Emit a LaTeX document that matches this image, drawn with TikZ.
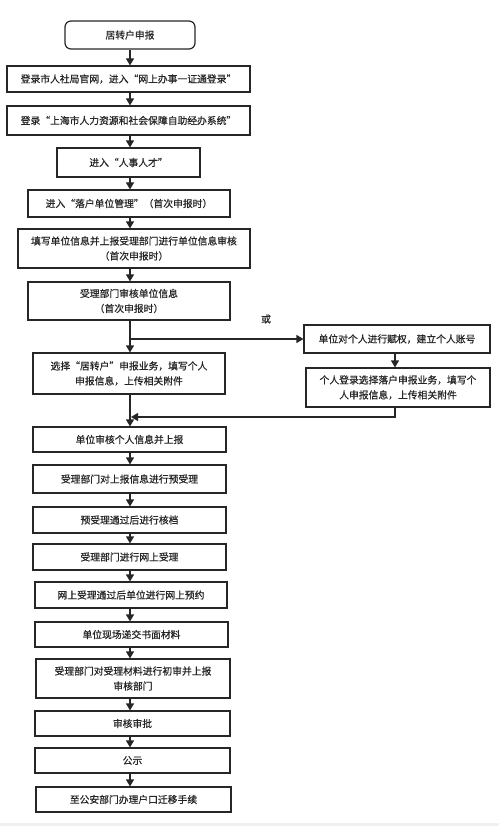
\documentclass[tikz,border=0pt]{standalone}
\usepackage{fontspec}
\newfontfamily\cjk[FakeBold=0.7]{Noto Sans CJK SC}
\usetikzlibrary{arrows.meta}
\begin{document}
\begin{tikzpicture}[x=1pt,y=-1pt,
  box/.style={draw=black!85, line width=1.2pt, align=center, inner sep=0pt,
    font=\cjk\fontsize{9.8}{15}\selectfont, text=black!85},
  arr/.style={draw=black!85, line width=1.2pt, -{Triangle[width=8pt,length=7pt]}},
  ln/.style={draw=black!85, line width=1.2pt}]
\useasboundingbox (0,0) rectangle (499,826);
\fill[black!6] (0,823) rectangle (499,826);
\node[box, rounded corners=6pt, minimum width=130pt, minimum height=28pt] (n0) at (130,35) {居转户申报};
\node[box, minimum width=243pt, minimum height=26pt] (n1) at (128.5,79) {登录市人社局官网，进入“网上办事一证通登录”};
\node[box, minimum width=243pt, minimum height=29pt] (n2) at (128.5,120.5) {登录“上海市人力资源和社会保障自助经办系统”};
\node[box, minimum width=143pt, minimum height=29pt] (n3) at (128.5,162.5) {进入“人事人才”};
\node[box, minimum width=202pt, minimum height=27pt] (n4) at (129,203.5) {进入“落户单位管理”（首次申报时）};
\node[box, minimum width=232pt, minimum height=39pt] (n5) at (134,248.5) {填写单位信息并上报受理部门进行单位信息审核\\（首次申报时）};
\node[box, minimum width=202pt, minimum height=38pt] (n6) at (129,301) {受理部门审核单位信息\\（首次申报时）};
\node[box, minimum width=192pt, minimum height=41pt] (n7) at (129,373.5) {选择“居转户”申报业务，填写个人\\申报信息，上传相关附件};
\node[box, minimum width=186pt, minimum height=28pt] (nA) at (397,339) {单位对个人进行赋权，建立个人账号};
\node[box, minimum width=184pt, minimum height=39pt] (nB) at (398,387.5) {个人登录选择落户申报业务，填写个\\人申报信息，上传相关附件};
\node[box, minimum width=193pt, minimum height=25pt] (n8) at (129.5,439.5) {单位审核个人信息并上报};
\node[box, minimum width=193pt, minimum height=28pt] (n9) at (129.5,479) {受理部门对上报信息进行预受理};
\node[box, minimum width=193pt, minimum height=26pt] (n10) at (129.5,520) {预受理通过后进行核档};
\node[box, minimum width=193pt, minimum height=26pt] (n11) at (129.5,557) {受理部门进行网上受理};
\node[box, minimum width=192pt, minimum height=26pt] (n12) at (131,595) {网上受理通过后单位进行网上预约};
\node[box, minimum width=193pt, minimum height=25pt] (n13) at (131.5,634.5) {单位现场递交书面材料};
\node[box, minimum width=194pt, minimum height=39pt] (n14) at (133,678.5) {受理部门对受理材料进行初审并上报\\审核部门};
\node[box, minimum width=195pt, minimum height=25pt] (n15) at (132.5,723.5) {审核审批};
\node[box, minimum width=195pt, minimum height=25pt] (n16) at (132.5,760.5) {公示};
\node[box, minimum width=195pt, minimum height=25pt] (n17) at (133.5,799.5) {至公安部门办理户口迁移手续};
\node[font=\cjk\fontsize{9.8}{12}\selectfont, text=black!85] (or) at (266,319) {或};
\foreach \a/\b in {n0/n1,n1/n2,n2/n3,n3/n4,n4/n5,n5/n6,n6/n7,n7/n8,n8/n9,n9/n10,n10/n11,n11/n12,n12/n13,n13/n14,n14/n15,n15/n16,n16/n17}
  \draw[arr] (\a.south -| n0.south) -- (\b.north -| n0.south);
\coordinate (br) at (n0.south |- nA.west);
\draw[arr] (br) -- (nA.west);
\draw[arr] (nA.south -| 395,0) -- (nB.north -| 395,0);
\coordinate (mg) at (131,417);
\draw[arr] (nB.south -| 395,0) -- (395,417) -- (mg);
\end{tikzpicture}
\end{document}
